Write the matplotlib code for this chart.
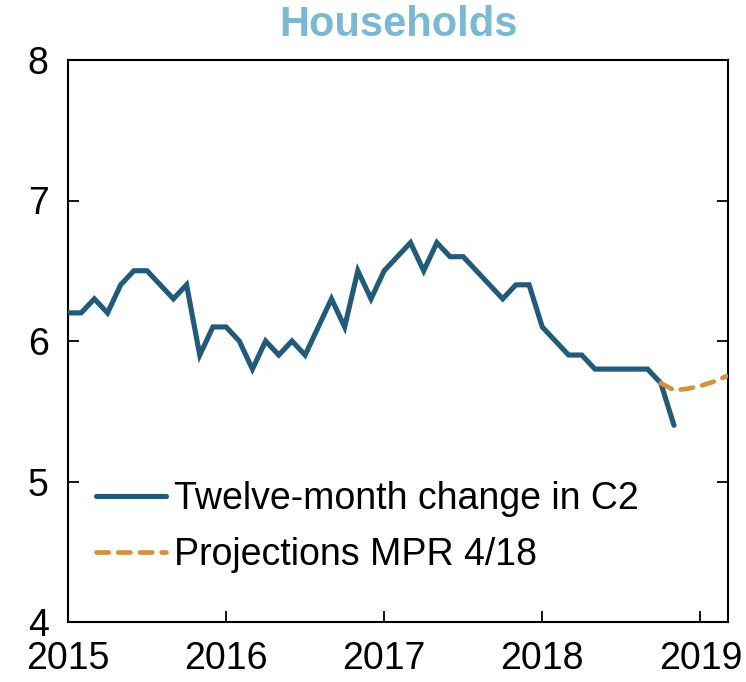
import matplotlib
matplotlib.use("Agg")
import matplotlib.pyplot as plt

plt.rcParams['font.family'] = ['Liberation Sans', 'DejaVu Sans']

# Monthly data starting January 2015 (month index 0)
c2_change = [
    6.2, 6.2, 6.3, 6.2, 6.4, 6.5, 6.5, 6.4, 6.3, 6.4, 5.9, 6.1,   # 2015
    6.1, 6.0, 5.8, 6.0, 5.9, 6.0, 5.9, 6.1, 6.3, 6.1, 6.5, 6.3,   # 2016
    6.5, 6.6, 6.7, 6.5, 6.7, 6.6, 6.6, 6.5, 6.4, 6.3, 6.4, 6.4,   # 2017
    6.1, 6.0, 5.9, 5.9, 5.8, 5.8, 5.8, 5.8, 5.8, 5.7, 5.4,        # 2018
]
proj_start = 45  # October 2018
projection = [5.70, 5.65, 5.66, 5.68, 5.71, 5.75]

year_ticks = [0, 12, 24, 36, 48]
year_labels = ["2015", "2016", "2017", "2018", "2019"]
y_ticks = [4, 5, 6, 7, 8]

blue = "#215a7a"
orange = "#d4913f"

fig = plt.figure(figsize=(7.46, 6.82), dpi=100)
ax = fig.add_axes([68/746, 1 - 622/682, (728-68)/746, (622-60)/682])

x_hist = list(range(len(c2_change)))
x_proj = list(range(proj_start, proj_start + len(projection)))

ax.plot(x_hist, c2_change, color=blue, lw=3.7, solid_joinstyle='miter',
        solid_capstyle='round', label="Twelve-month change in C2", zorder=3)
ax.plot(x_proj, projection, color=orange, lw=3.4, linestyle=(0, (2.6, 2.0)),
        dash_capstyle='round', label="Projections MPR 4/18", zorder=4)

ax.set_xlim(0, 50.1)
ax.set_ylim(4, 8)
ax.set_xticks(year_ticks)
ax.set_xticklabels(year_labels)
ax.set_yticks(y_ticks)

for s in ax.spines.values():
    s.set_linewidth(1.5)

ax.tick_params(axis='x', direction='in', length=8, width=1.3, labelsize=27, pad=14)
ax.tick_params(axis='y', direction='in', length=8, width=1.3, labelsize=27, pad=14,
               left=True, right=True)

ax.set_title("Households", fontsize=30, fontweight='bold', color="#7bb8d4", pad=17)

leg = ax.legend(loc='lower left', bbox_to_anchor=(0.02, 0.06), frameon=False,
                fontsize=27, handlelength=1.87, handletextpad=0.2, labelspacing=0.55,
                borderaxespad=0)

fig.savefig("out.png", dpi=100)
